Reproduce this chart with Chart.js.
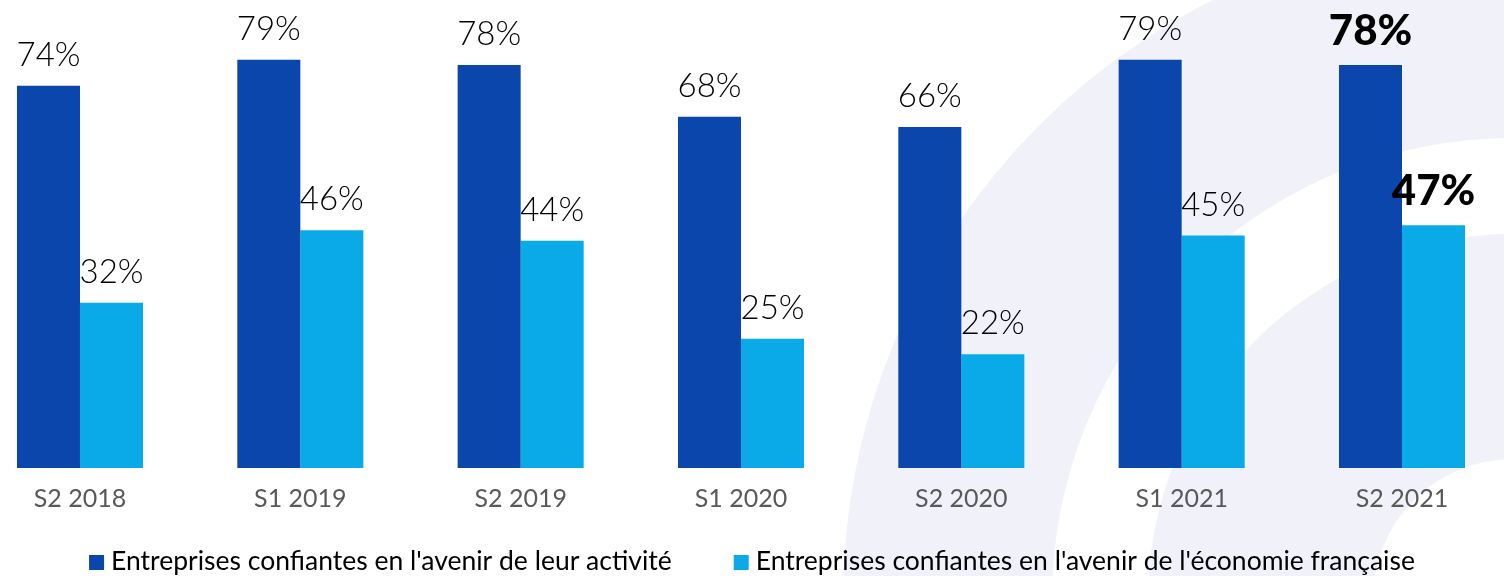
<!DOCTYPE html>
<html>
<head>
<meta charset="utf-8">
<script src="https://cdn.jsdelivr.net/npm/chart.js@4.4.1/dist/chart.umd.min.js"></script>
<style>
  html, body { margin: 0; padding: 0; background: #fff; }
  #wrap { width: 1504px; height: 576px; }
</style>
</head>
<body>
<div id="wrap"><canvas id="chart" width="1504" height="576"></canvas></div>
<script>
const periods = ["S2 2018", "S1 2019", "S2 2019", "S1 2020", "S2 2020", "S1 2021", "S2 2021"];
const activityValues = [74, 79, 78, 68, 66, 79, 78];
const economyValues = [32, 46, 44, 25, 22, 45, 47];
const seriesNames = [
  "Entreprises confiantes en l'avenir de leur activité",
  "Entreprises confiantes en l'avenir de l'économie française"
];
const seriesColors = ["#0a46ac", "#0aaae8"];

// pale arcs behind the bars
const backdrop = {
  id: "backdrop",
  beforeDraw(chart) {
    const ctx = chart.ctx;
    ctx.save();
    ctx.fillStyle = "#fff";
    ctx.fillRect(0, 0, chart.width, chart.height);
    ctx.fillStyle = "#f1f1f9";
    const cx = 1513, cy = 599;
    [[670, 461], [365, 140]].forEach(([outer, inner]) => {
      ctx.beginPath();
      ctx.arc(cx, cy, outer, 0, Math.PI * 2);
      ctx.arc(cx, cy, inner, 0, Math.PI * 2, true);
      ctx.fill();
    });
    ctx.restore();
  }
};

const valueLabels = {
  id: "valueLabels",
  afterDatasetsDraw(chart) {
    const ctx = chart.ctx;
    const last = chart.data.labels.length - 1;
    ctx.save();
    ctx.textAlign = "center";
    ctx.textBaseline = "alphabetic";
    ctx.fillStyle = "#000";
    chart.data.datasets.forEach((ds, d) => {
      chart.getDatasetMeta(d).data.forEach((bar, i) => {
        ctx.font = i === last ? "900 42px Lato" : "300 33px Lato";
        ctx.fillText(ds.data[i] + "%", bar.x, bar.y - 20);
      });
    });
    ctx.restore();
  }
};

const bottomLegend = {
  id: "bottomLegend",
  afterDraw(chart) {
    const ctx = chart.ctx;
    const box = 15, gap = 7, spacing = 62, base = 570;
    ctx.save();
    ctx.font = "26.5px Lato";
    ctx.textBaseline = "alphabetic";
    const items = chart.data.datasets.map(ds => ({
      text: ds.label,
      color: ds.backgroundColor,
      w: box + gap + ctx.measureText(ds.label).width
    }));
    const total = items.reduce((s, it) => s + it.w, 0) + spacing * (items.length - 1);
    let x = (chart.width - total) / 2;
    items.forEach(it => {
      ctx.fillStyle = it.color;
      ctx.fillRect(x, base - box, box, box);
      ctx.fillStyle = "#000";
      ctx.fillText(it.text, x + box + gap, base);
      x += it.w + spacing;
    });
    ctx.restore();
  }
};

new Chart(document.getElementById("chart"), {
  type: "bar",
  data: {
    labels: periods,
    datasets: [
      {label: seriesNames[0], data: activityValues, backgroundColor: seriesColors[0],
       categoryPercentage: 0.572, barPercentage: 1, clip: false},
      {label: seriesNames[1], data: economyValues, backgroundColor: seriesColors[1],
       categoryPercentage: 0.572, barPercentage: 1, clip: false}
    ]
  },
  options: {
    responsive: false,
    animation: false,
    layout: {padding: {left: 80, right: 102, top: 3, bottom: 54}},
    plugins: {
      legend: {display: false},
      tooltip: {enabled: false}
    },
    scales: {
      x: {
        offset: false,
        grid: {display: false},
        border: {display: false},
        ticks: {
          color: "#595959",
          font: {family: "Lato", size: 25},
          padding: 8,
          maxRotation: 0,
          autoSkip: false
        }
      },
      y: {display: false, min: 0, max: 90}
    }
  },
  plugins: [backdrop, valueLabels, bottomLegend]
});
</script>
</body>
</html>
